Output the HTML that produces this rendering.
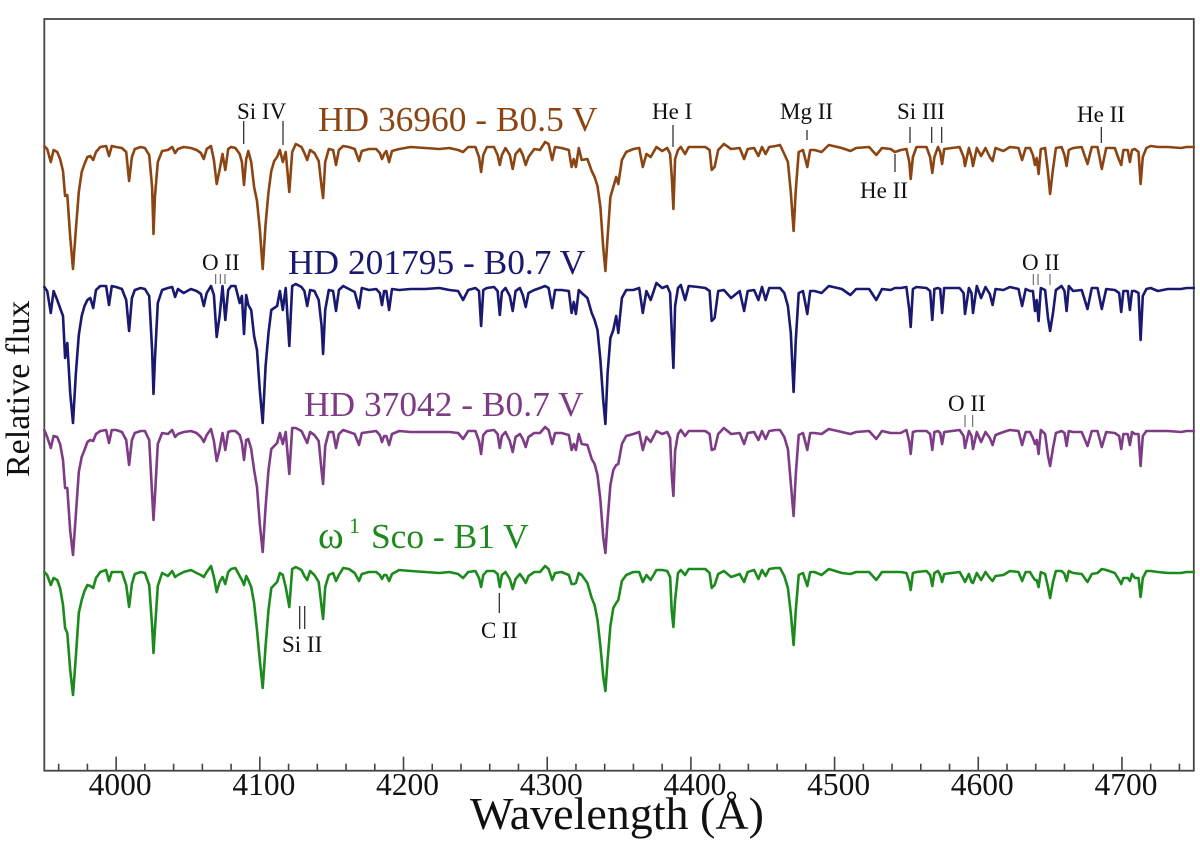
<!DOCTYPE html>
<html lang="en">
<head>
<meta charset="utf-8">
<title>Stellar spectra</title>
<style>
html,body{margin:0;padding:0;background:#fff;}
svg{display:block;}
text{font-family:"Liberation Serif",serif;}
.note{font-size:23px;fill:#111;}
.star{font-size:35.4px;}
.mark{stroke:#222;stroke-width:1.2;}
.mark-thin{stroke:#555;stroke-width:1;}
</style>
</head>
<body>
<svg id="chart" xmlns="http://www.w3.org/2000/svg" width="1200" height="845" viewBox="0 0 1200 845">
  <rect x="44.3" y="19" width="1149.5" height="751.7" fill="none" stroke="#444" stroke-width="1.8"/>
  <g id="series" fill="none" stroke-width="2.6" stroke-linejoin="round" stroke-linecap="round"></g>
  <g id="ticks"></g>

  <text class="star" x="318" y="131" fill="#8b4513">HD 36960 - B0.5 V</text>
  <text class="star" x="288" y="274" fill="#191970">HD 201795 - B0.7 V</text>
  <text class="star" x="304" y="416" fill="#7d3c85">HD 37042 - B0.7 V</text>
  <text x="318" y="548" font-size="39" fill="#1d8a1d">ω</text>
  <text x="349" y="533" font-size="22" fill="#1d8a1d">1</text>
  <text class="star" x="371" y="548" fill="#1d8a1d">Sco - B1 V</text>

  <g>
    <text class="note" x="237" y="119">Si IV</text>
    <line class="mark" x1="243.7" x2="243.7" y1="121" y2="144"/>
    <line class="mark" x1="283" x2="283" y1="121" y2="145"/>
    <text class="note" x="652" y="119">He I</text>
    <line class="mark" x1="673" x2="673" y1="125" y2="147"/>
    <text class="note" x="780" y="119">Mg II</text>
    <line class="mark" x1="807" x2="807" y1="130" y2="140"/>
    <text class="note" x="897" y="119">Si III</text>
    <line class="mark" x1="910" x2="910" y1="127" y2="143"/>
    <line class="mark" x1="931.7" x2="931.7" y1="127" y2="143"/>
    <line class="mark" x1="941.7" x2="941.7" y1="127" y2="143"/>
    <text class="note" x="1077" y="122">He II</text>
    <line class="mark" x1="1101.3" x2="1101.3" y1="127" y2="143"/>
    <text class="note" x="860" y="198">He II</text>
    <line class="mark" x1="895" x2="895" y1="154" y2="172"/>
    <text class="note" x="202" y="270">O II</text>
    <line class="mark-thin" x1="215.7" x2="215.7" y1="274" y2="284"/>
    <line class="mark-thin" x1="220.3" x2="220.3" y1="274" y2="284"/>
    <line class="mark-thin" x1="225" x2="225" y1="274" y2="284"/>
    <text class="note" x="1022" y="270">O II</text>
    <line class="mark-thin" x1="1033.3" x2="1033.3" y1="274" y2="285"/>
    <line class="mark-thin" x1="1038" x2="1038" y1="274" y2="285"/>
    <line class="mark-thin" x1="1050" x2="1050" y1="274" y2="285"/>
    <text class="note" x="948" y="411">O II</text>
    <line class="mark-thin" x1="965" x2="965" y1="415" y2="427"/>
    <line class="mark-thin" x1="972.7" x2="972.7" y1="415" y2="427"/>
    <text class="note" x="282" y="652">Si II</text>
    <line class="mark" x1="299.7" x2="299.7" y1="606" y2="629"/>
    <line class="mark" x1="304.7" x2="304.7" y1="606" y2="629"/>
    <text class="note" x="481" y="638">C II</text>
    <line class="mark" x1="499.3" x2="499.3" y1="593" y2="613"/>
  </g>

  <text x="470" y="829" font-size="46" fill="#111">Wavelength (Å)</text>
  <text transform="translate(29,477) rotate(-90)" font-size="34" fill="#111">Relative flux</text>
</svg>
<script>
const wavelengths = [
3950,3952,3954.5,3956.5,3959,3961,3963,3964.5,3966,3968,
3970,3972,3974,3976,3978,3980,3982,3984,3986,3989,
3993,3995,3997,4000,4004,4007,4009,4011,4013,4017,
4020,4023,4025,4026,4027,4029,4032,4036,4039,4041,
4043,4047,4052,4056,4059,4061,4063,4066,4068,4070,
4072,4074,4076,4078,4080,4083,4086,4087.5,4089,4090.5,
4092,4094,4096,4098,4100,4102,4104,4106,4108,4110,
4112,4114,4116,4118,4120.5,4122.5,4125,4129,4131,4133,
4135,4138,4141,4143,4144,4145.5,4148,4151,4153,4155,
4158,4162,4166,4169,4171,4176,4181,4183.5,4185,4186.5,
4188,4190,4192,4197,4205,4215,4225,4232,4238,4241.5,
4245,4250,4252.5,4254,4255.5,4258,4263,4265.5,4267,4268.5,
4271,4274,4276,4278,4281,4283,4285,4287,4291,4295,
4298.5,4301,4303.5,4305.5,4310,4315,4317,4318.5,4320,4322,
4324,4328,4331,4333,4335,4337,4339,4340.5,4342,4344,
4346,4348,4349.5,4352,4355,4360,4364,4366.5,4369,4372,
4376,4380,4383.5,4385.5,4386.7,4387.8,4389,4391,4393,4396,
4398.5,4405,4410,4413,4414.5,4416.5,4419,4423,4428,4434,
4437,4439.5,4444,4447,4449.5,4452,4454.5,4459,4462,4465,
4467.5,4469.5,4471.5,4473,4475,4478,4481,4483,4486,4491,
4496,4505,4511,4515,4524,4529,4533,4539,4542,4546,
4550,4552,4553,4554.5,4557,4564,4566.5,4568,4569.5,4572,
4573.5,4574.8,4576.3,4587,4589.8,4590.8,4593.5,4595.3,4596.3,4599,
4602,4605,4608,4610,4612,4617.5,4622,4628,4630.5,4633,
4636,4638,4639.5,4640.7,4642,4643.5,4646.5,4648.5,4650,4652,
4654,4658,4660,4661.5,4663,4666,4672,4676,4679,4683,
4686,4689,4695,4698,4699.5,4701,4704,4705.5,4707,4709,
4711.5,4713,4714.5,4717,4720,4725,4732,4741,4745,4750
];
const fluxHD36960 = [
201,198,185,197,195,188,176,151,152,110,
78,118,155,175,183,190,191,187,195,200,
201,191,201,200,199,195,166,190,198,200,
199,192,160,113,150,185,196,197,200,194,
198,200,199,197,194,188,198,201,187,163,
177,193,177,198,200,199,193,185,162,188,
196,185,160,146,118,78,123,155,176,186,
190,197,185,195,155,195,203,200,194,187,
197,194,186,160,149,185,198,197,182,197,
201,200,198,186,196,198,198,194,188,193,
196,185,196,198,200,199,198,199,197,195,
200,200,190,175,192,200,200,192,182,192,
199,192,178,193,198,192,182,190,198,197,
205,203,187,200,199,197,180,188,180,199,
187,188,176,170,161,140,100,76,110,150,
160,170,163,187,195,198,199,180,193,190,
200,196,199,193,170,138,188,197,200,193,
200,200,200,197,177,180,197,203,198,199,
188,198,199,191,200,193,200,201,202,193,
185,155,116,157,195,197,180,197,197,195,
202,199,196,199,200,192,199,198,195,197,
198,185,168,190,200,200,190,174,190,200,
195,183,198,200,190,181,199,190,181,199,
191,199,190,186,199,196,200,199,187,199,
199,192,182,189,173,198,199,175,153,178,
199,200,192,181,197,199,200,183,200,200,
178,199,199,187,182,197,197,185,197,198,
195,163,190,199,201,200,200,199,200,200
];
const fluxHD201795 = [
201,197,175,197,188,180,172,130,145,95,
65,115,153,172,182,188,190,180,198,202,
202,183,202,201,199,188,157,190,198,200,
199,192,138,94,128,185,198,200,201,191,
199,195,199,197,194,182,195,202,193,151,
172,202,168,198,202,202,185,192,154,193,
183,178,152,138,98,65,122,155,178,180,
182,197,178,200,142,202,204,201,197,182,
198,197,188,162,134,178,198,197,177,198,
202,199,196,180,200,198,199,195,183,197,
197,178,199,198,199,199,200,198,197,188,
198,200,197,162,198,200,201,197,173,196,
200,192,177,197,200,193,181,195,198,200,
202,200,180,198,198,197,175,186,174,198,
195,190,175,168,158,128,88,64,115,150,
158,172,155,190,198,198,200,175,197,188,
205,200,202,195,155,120,182,200,203,188,
202,201,200,197,167,170,197,198,190,197,
177,197,198,188,201,188,200,200,200,195,
182,155,96,148,195,197,174,197,197,195,
202,199,193,199,199,188,199,198,200,200,
201,178,161,199,201,200,197,168,199,200,
199,175,200,200,195,174,200,195,175,202,
190,201,194,183,199,198,201,199,182,199,
197,197,177,188,167,200,198,170,157,175,
198,202,197,177,202,197,198,179,200,200,
179,199,198,195,176,197,197,178,197,197,
195,148,192,199,200,197,199,199,200,200
];
const fluxHD37042 = [
201,194,183,195,194,187,171,143,143,100,
76,117,159,174,181,189,191,190,197,200,
201,188,201,201,199,191,166,191,198,200,
200,191,137,111,134,187,198,197,201,194,
197,199,200,198,194,189,196,202,190,170,
182,198,181,199,200,200,196,188,171,191,
192,182,161,144,107,79,124,161,182,185,
188,198,187,199,157,203,203,200,194,188,
199,196,190,160,147,185,199,199,183,197,
201,199,197,186,198,199,200,196,189,195,
195,186,197,200,199,199,199,199,198,192,
200,200,190,177,196,200,201,197,183,195,
199,190,179,194,197,192,184,194,198,198,
204,201,187,198,198,196,181,187,181,197,
187,186,172,167,156,131,94,78,111,146,
161,166,167,187,195,197,199,181,194,189,
200,197,199,193,155,135,180,197,201,195,
200,200,200,197,181,182,197,203,197,198,
187,198,199,191,200,192,200,201,201,194,
182,148,115,157,196,198,181,198,198,197,
202,199,197,199,200,192,200,198,198,198,
201,189,177,199,200,200,197,181,199,200,
198,187,199,201,195,183,200,195,182,199,
189,199,193,186,196,199,201,200,186,199,
199,193,187,191,177,201,197,175,165,183,
198,200,198,185,200,199,199,185,200,200,
184,199,198,195,182,197,197,186,199,197,
197,165,195,200,200,200,200,199,200,200
];
const fluxOmegaSco = [
200,197,187,194,192,184,167,144,139,102,
77,116,159,172,181,187,186,184,194,200,
202,191,200,200,200,187,165,188,198,200,
199,187,146,119,142,186,199,196,201,195,
197,200,202,199,197,195,200,206,195,180,
190,195,188,200,203,204,196,192,187,196,
192,185,169,142,112,84,126,162,184,187,
190,199,197,185,165,203,205,202,196,192,
201,197,190,165,153,185,197,199,191,197,
204,203,199,191,198,200,200,197,193,197,
197,191,198,202,201,200,199,200,198,194,
200,201,194,185,197,201,201,198,185,197,
200,193,183,193,198,194,189,196,200,200,
206,203,192,199,200,197,188,188,189,199,
197,189,174,167,152,126,96,81,112,146,
164,169,172,191,197,200,200,190,197,192,
202,202,201,195,160,145,172,199,202,197,
203,203,203,199,184,187,198,201,195,198,
190,200,202,193,202,196,203,204,204,196,
184,159,127,162,197,199,186,200,200,197,
203,199,198,200,200,192,200,200,200,200,
199,190,182,199,200,201,197,186,199,201,
197,190,198,200,193,190,198,190,189,199,
192,200,194,191,196,197,201,200,191,200,
200,195,192,192,185,200,198,185,174,190,
201,201,198,191,201,199,198,190,198,199,
203,202,199,192,188,194,194,191,198,194,
194,175,194,201,201,200,199,199,200,200
];
const fluxOffsets = [427, 286, 143, 2];
const seriesNames = ["HD 36960", "HD 201795", "HD 37042", "omega1 Sco"];
const seriesColors = ["#8b4513", "#191970", "#7d3c85", "#1d8a1d"];
const majorTicks = [4000, 4100, 4200, 4300, 4400, 4500, 4600, 4700];
const minorTicks = [3960, 3980, 4020, 4040, 4060, 4080, 4120, 4140, 4160, 4180, 4220, 4240, 4260, 4280, 4320, 4340, 4360, 4380, 4420, 4440, 4460, 4480, 4520, 4540, 4560, 4580, 4620, 4640, 4660, 4680, 4720, 4740];

const svgNS = "http://www.w3.org/2000/svg";
const plot = { left: 44.3, right: 1193.8, top: 19, bottom: 770.7 };
const xDomain = [3950, 4750];
const yDomain = [3.3, 755];
function xScale(w) {
  return plot.left + (w - xDomain[0]) / (xDomain[1] - xDomain[0]) * (plot.right - plot.left);
}
function yScale(f) {
  return plot.bottom - (f - yDomain[0]) / (yDomain[1] - yDomain[0]) * (plot.bottom - plot.top);
}
const allFlux = [fluxHD36960, fluxHD201795, fluxHD37042, fluxOmegaSco];
const seriesGroup = document.getElementById("series");
allFlux.forEach(function (flux, s) {
  const n = Math.min(flux.length, wavelengths.length);
  const pts = [];
  for (let i = 0; i < n; i++) {
    pts.push(xScale(wavelengths[i]).toFixed(1) + "," + yScale(flux[i] + fluxOffsets[s]).toFixed(1));
  }
  const line = document.createElementNS(svgNS, "polyline");
  line.setAttribute("points", pts.join(" "));
  line.setAttribute("stroke", seriesColors[s]);
  
  
  line.setAttribute("aria-label", seriesNames[s]);
  seriesGroup.appendChild(line);
});
const tickGroup = document.getElementById("ticks");
majorTicks.forEach(function (w) {
  const t = document.createElementNS(svgNS, "line");
  t.setAttribute("x1", xScale(w));
  t.setAttribute("x2", xScale(w));
  t.setAttribute("y1", plot.bottom);
  t.setAttribute("y2", plot.bottom - 14);
  t.setAttribute("stroke", "#444");
  t.setAttribute("stroke-width", "1.6");
  
  
  tickGroup.appendChild(t);
  const label = document.createElementNS(svgNS, "text");
  label.setAttribute("x", xScale(w) + 4);
  label.setAttribute("y", 795);
  label.setAttribute("text-anchor", "middle");
  label.setAttribute("font-size", "31.5");
  label.setAttribute("fill", "#111");
  label.textContent = String(w);
  
  
  tickGroup.appendChild(label);
});
minorTicks.forEach(function (w) {
  const t = document.createElementNS(svgNS, "line");
  t.setAttribute("x1", xScale(w));
  t.setAttribute("x2", xScale(w));
  t.setAttribute("y1", plot.bottom);
  t.setAttribute("y2", plot.bottom - 7);
  t.setAttribute("stroke", "#444");
  t.setAttribute("stroke-width", "1.6");
  
  
  tickGroup.appendChild(t);
});
</script>
</body>
</html>
